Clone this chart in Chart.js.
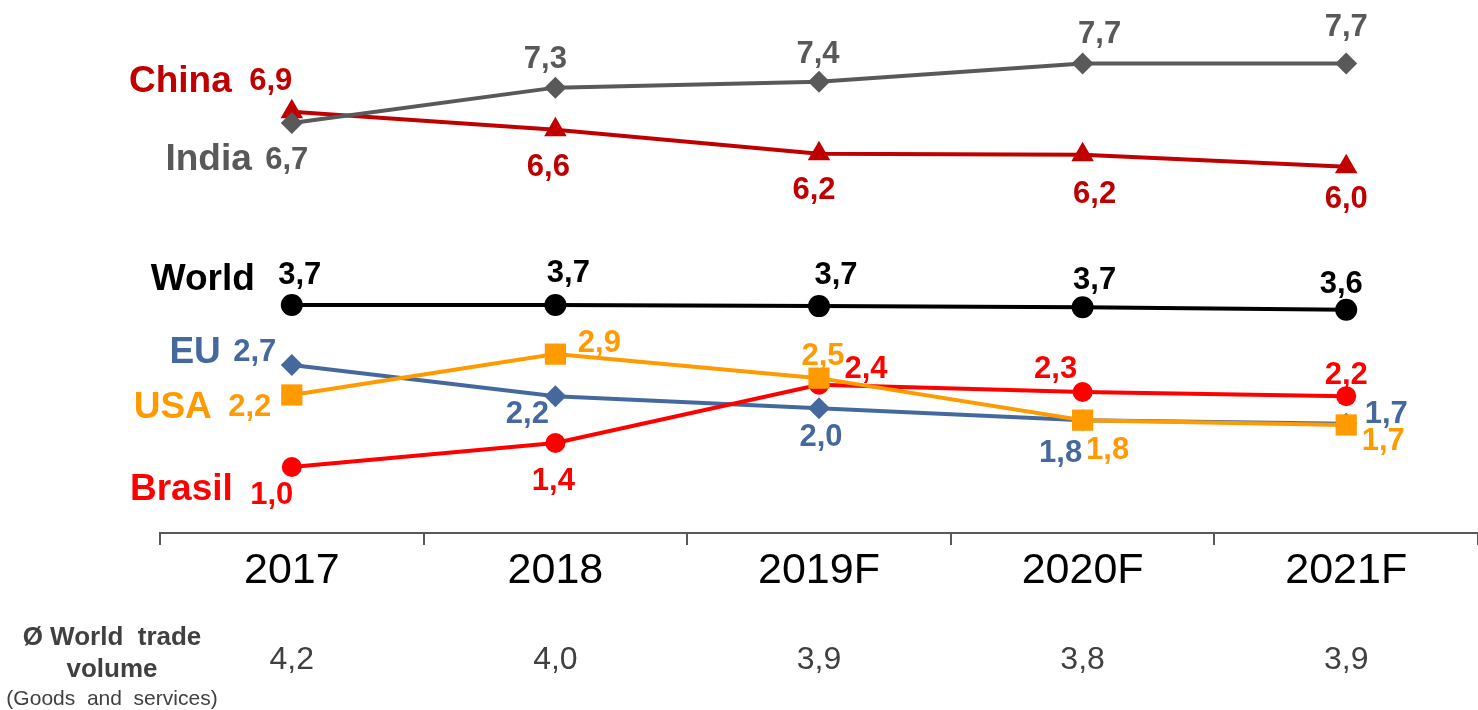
<!DOCTYPE html>
<html>
<head>
<meta charset="utf-8">
<script src="https://cdn.jsdelivr.net/npm/chart.js@4.4.1/dist/chart.umd.min.js"></script>
<style>
  html, body { margin: 0; padding: 0; background: #fff; }
</style>
</head>
<body>
<canvas id="chart" width="1478" height="710"></canvas>
<script>
// data
const years = ['2017', '2018', '2019F', '2020F', '2021F'];
const china = [6.92, 6.62, 6.22, 6.2, 6.0];
const india = [6.73, 7.32, 7.42, 7.72, 7.72];
const world = [3.7, 3.7, 3.68, 3.66, 3.62];
const eu = [2.7, 2.18, 1.98, 1.78, 1.72];
const usa = [2.2, 2.88, 2.48, 1.78, 1.7];
const brasil = [1.0, 1.4, 2.37, 2.25, 2.18];
const tradeVolume = [4.2, 4.0, 3.9, 3.8, 3.9];

const FONT = '"Liberation Sans", Arial, sans-serif';
const fmt = v => v.toFixed(1).replace('.', ',');

// where each value label sits relative to its point, and the series name relative to the first point
const labelPos = {
  China:  [[-21,-33],[-7,35],[-5,34],[12,37],[0,30]],
  India:  [[-5,34],[-10,-31],[-1,-30],[17,-32],[0,-39]],
  World:  [[8,-32],[13,-34],[17,-34],[12,-30],[-5,-28]],
  EU:     [[-37,-15],[-28,15],[2,26],[-22,30],[40,-12]],
  USA:    [[-42,10],[44,-14],[4,-25],[25,27],[37,13]],
  Brasil: [[-20,25],[-2,35],[47,-18],[-27,-25],[0,-24]]
};
const namePos = {
  China: [-60,-33], India: [-40,34], World: [-37,-28],
  EU: [-71,-15], USA: [-80,10], Brasil: [-59,20]
};
const TEXT_NUDGE = 3; // 'middle' baseline sits a bit high for digits

const series = (label, data, color, style, radius) => ({
  label, data,
  borderColor: color, backgroundColor: color,
  borderWidth: 4, pointStyle: style, pointRadius: radius,
  pointBorderWidth: 0, pointBackgroundColor: color,
  tension: 0, clip: false
});

const labelPlugin = {
  id: 'valueLabels',
  afterDatasetsDraw(chart) {
    const c = chart.ctx;
    chart.data.datasets.forEach((ds, i) => {
      const meta = chart.getDatasetMeta(i);
      const offs = labelPos[ds.label];
      c.save();
      c.fillStyle = ds.borderColor;
      c.textAlign = 'center';
      c.textBaseline = 'middle';
      c.font = 'bold 31px ' + FONT;
      meta.data.forEach((pt, j) => {
        c.fillText(fmt(ds.data[j]), pt.x + offs[j][0], pt.y + offs[j][1] + TEXT_NUDGE);
      });
      const p0 = meta.data[0];
      const n = namePos[ds.label];
      c.textAlign = 'right';
      c.font = 'bold 37px ' + FONT;
      c.fillText(ds.label, p0.x + n[0], p0.y + n[1] + TEXT_NUDGE);
      c.restore();
    });

    const xs = chart.scales.x;
    c.save();
    c.fillStyle = '#404040';
    c.textAlign = 'center';
    c.textBaseline = 'middle';
    c.font = '32px ' + FONT;
    tradeVolume.forEach((v, j) => c.fillText(fmt(v), xs.getPixelForValue(j), 660));
    c.font = 'bold 26px ' + FONT;
    c.fillText('Ø World  trade', 112, 638);
    c.fillText('volume', 112, 670);
    c.font = '21px ' + FONT;
    c.fillText('(Goods  and  services)', 112, 699);
    c.restore();
  }
};

new Chart(document.getElementById('chart'), {
  type: 'line',
  data: {
    labels: years,
    datasets: [
      series('USA', usa, '#FF9A00', 'rect', 15),
      series('Brasil', brasil, '#FF0000', 'circle', 10),
      series('EU', eu, '#45699E', 'rectRot', 11),
      series('World', world, '#000000', 'circle', 11),
      series('India', india, '#595959', 'rectRot', 11),
      series('China', china, '#C00000', 'triangle', 13)
    ]
  },
  options: {
    responsive: false,
    animation: false,
    devicePixelRatio: 1,
    layout: { autoPadding: false, padding: { left: 160, top: 0, right: 0, bottom: 0 } },
    plugins: { legend: { display: false }, tooltip: { enabled: false } },
    scales: {
      x: {
        offset: true,
        grid: { offset: true, drawOnChartArea: false, drawTicks: true, tickLength: 12, color: '#595959', lineWidth: 2 },
        border: { display: true, color: '#595959', width: 2 },
        ticks: { color: '#000', font: { family: FONT, size: 43 }, padding: 0, maxRotation: 0, autoSkip: false },
        afterFit: s => { s.height = 177; }
      },
      y: { display: false, min: -0.1, max: 8.78 }
    }
  },
  plugins: [labelPlugin]
});
</script>
</body>
</html>
